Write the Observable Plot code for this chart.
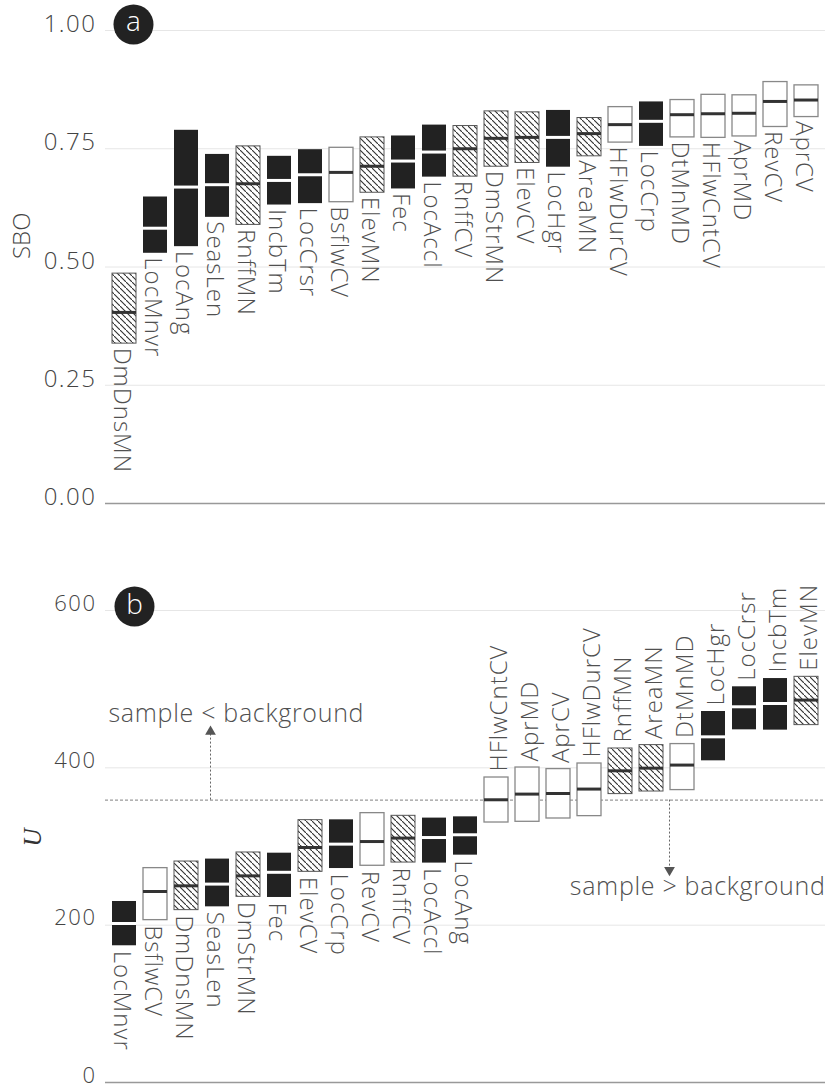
<!DOCTYPE html>
<html><head><meta charset="utf-8">
<script src="https://cdn.jsdelivr.net/npm/d3@7"></script>
<script src="https://cdn.jsdelivr.net/npm/@observablehq/plot@0.6"></script>
<style>
body{margin:0;background:#fff;}
#chart{width:827px;}
#chart svg{display:block;}
text[aria-label="cat-label"]{letter-spacing:1px;}
g[aria-label="y-axis tick label"] text{letter-spacing:1.5px;}
text[aria-label="annotation"]{letter-spacing:0.7px;}
</style></head><body><div id="chart"></div>
<script>
// ---------- data ----------
const varsA = ["DmDnsMN","LocMnvr","LocAng","SeasLen","RnffMN","IncbTm","LocCrsr","BsflwCV","ElevMN","Fec","LocAccl","RnffCV","DmStrMN","ElevCV","LocHgr","AreaMN","HFlwDurCV","LocCrp","DtMnMD","HFlwCntCV","AprMD","RevCV","AprCV"];
const lowA  = [0.338,0.529,0.543,0.605,0.589,0.631,0.634,0.637,0.657,0.665,0.690,0.691,0.712,0.720,0.711,0.734,0.763,0.755,0.774,0.773,0.776,0.796,0.817];
const medA  = [0.404,0.582,0.669,0.674,0.676,0.683,0.695,0.700,0.713,0.724,0.743,0.750,0.772,0.774,0.774,0.782,0.801,0.808,0.822,0.824,0.825,0.850,0.853];
const highA = [0.486,0.648,0.789,0.738,0.755,0.734,0.748,0.752,0.774,0.777,0.800,0.798,0.829,0.827,0.831,0.815,0.838,0.849,0.853,0.864,0.863,0.891,0.884];

const varsB = ["LocMnvr","BsflwCV","DmDnsMN","SeasLen","DmStrMN","Fec","ElevCV","LocCrp","RevCV","RnffCV","LocAccl","LocAng","HFlwCntCV","AprMD","AprCV","HFlwDurCV","RnffMN","AreaMN","DtMnMD","LocHgr","LocCrsr","IncbTm","ElevMN"];
const lowB  = [173.8,206.4,219.1,223.3,236.0,235.2,267.8,272.0,275.5,279.6,278.9,289.0,330.5,331.4,335.6,338.6,366.6,369.9,371.7,408.9,448.3,447.9,454.3];
const medB  = [202.1,242.8,250.0,252.2,262.7,267.2,298.7,303.0,306.3,310.7,311.4,314.9,359.4,366.6,367.4,373.0,396.2,399.6,403.5,439.4,477.6,481.8,486.1];
const highB = [230.1,272.5,280.9,284.0,292.4,291.5,333.5,333.9,342.4,339.0,336.1,337.7,387.7,400.4,398.4,405.5,424.6,428.9,430.2,471.6,503.0,513.5,515.7];

const solidVars = ["LocMnvr","LocAng","SeasLen","IncbTm","LocCrsr","Fec","LocAccl","LocHgr","LocCrp"];
const hatchVars = ["DmDnsMN","RnffMN","ElevMN","RnffCV","DmStrMN","ElevCV","AreaMN"];
const openVars  = ["BsflwCV","HFlwDurCV","DtMnMD","HFlwCntCV","AprMD","RevCV","AprCV"];

const ticksA = [0, 0.25, 0.5, 0.75, 1];
const ticksB = [0, 200, 400, 600];
const criticalU = 359;
const annotUp = {text: "sample < background", y: 469, arrowFrom: 359, arrowTo: 446, at: "SeasLen"};
const annotDown = {text: "sample > background", y: 249, arrowFrom: 359, arrowTo: 270, at: "AreaMN"};

// ---------- helpers ----------
const FONT = "'Open Sans', Lato, sans-serif";
const TXT = "#505050";
function typeOf(v){ return solidVars.includes(v) ? "solid" : hatchVars.includes(v) ? "hatch" : "open"; }
function rowsOf(vars, lo, md, hi){ return vars.map((v,i)=>({v, lo: lo[i], md: md[i], hi: hi[i], type: typeOf(v)})); }
function hatchDefs(id){
  return () => {
    const defs = d3.create("svg:defs");
    const p = defs.append("pattern").attr("id", id).attr("width", 6).attr("height", 6).attr("patternUnits", "userSpaceOnUse");
    p.append("rect").attr("width", 6).attr("height", 6).attr("fill", "#fff");
    p.append("path").attr("d", "M-1,-1L1,1M0,0L6,6M5,5L7,7").attr("stroke", "#333").attr("stroke-width", 1.1);
    return defs.node();
  };
}
function boxMarks(rows, id){
  return [
    Plot.barY(rows.filter(d=>d.type==="solid"), {x:"v", y1:"lo", y2:"hi", fill:"#222"}),
    Plot.barY(rows.filter(d=>d.type==="open"), {x:"v", y1:"lo", y2:"hi", fill:"#fff", stroke:"#888", strokeWidth:1.3}),
    Plot.barY(rows.filter(d=>d.type==="hatch"), {x:"v", y1:"lo", y2:"hi", fill:`url(#${id})`, stroke:"#555", strokeWidth:1}),
    Plot.tickY(rows.filter(d=>d.type==="solid"), {x:"v", y:"md", stroke:"#fff", strokeWidth:3}),
    Plot.tickY(rows.filter(d=>d.type!=="solid"), {x:"v", y:"md", stroke:"#333", strokeWidth:3})
  ];
}
const labelStyle = {fontSize: 24, fill: TXT, fontWeight: 300, fontFamily: FONT, ariaLabel: () => "cat-label"};
const annotStyle = {fontSize: 25, fill: TXT, fontWeight: 300, fontFamily: FONT, ariaLabel: () => "annotation"};

// ---------- panel a ----------
const rowsA = rowsOf(varsA, lowA, medA, highA);
const plotA = Plot.plot({
  width: 827, height: 545, marginLeft: 105, marginRight: 2, marginTop: 30, marginBottom: 42,
  style: {fontFamily: FONT, background: "#fff"},
  x: {domain: varsA, padding: 0.22, axis: null},
  y: {domain: [0, 1], axis: null},
  marks: [
    hatchDefs("hatchA"),
    Plot.gridY(ticksA.filter(t=>t>0), {stroke:"#e6e6e6", strokeOpacity:1}),
    Plot.ruleY([0], {stroke:"#999", strokeWidth:1.5}),
    Plot.axisY(ticksA, {tickSize:0, tickPadding:9, tickFormat: d3.format(".2f"), fontSize:24, fontWeight:300, color:"#444", dy:-6, label:null}),
    Plot.text(["SBO"], {text: d=>d, frameAnchor:"left", rotate:-90, dx:-83, dy:-8, fontSize:24, fontWeight:300, fill:"#444"}),
    ...boxMarks(rowsA, "hatchA"),
    Plot.text(rowsA, {x:"v", y:"lo", text:"v", rotate:90, textAnchor:"start", dy:4, dx:-3, ...labelStyle}),
    Plot.dot([{x: varsA[0], y: 1}], {x:"x", y:"y", r:20, fill:"#222", dx:9, dy:-6}),
    Plot.text([{x: varsA[0], y: 1, t: "a"}], {x:"x", y:"y", text:"t", fill:"#fff", fontSize:28, fontWeight:300, dx:9, dy:-8})
  ]
});

// ---------- panel b ----------
const rowsB = rowsOf(varsB, lowB, medB, highB);
const plotB = Plot.plot({
  width: 827, height: 544, marginLeft: 105, marginRight: 2, marginTop: 65, marginBottom: 7,
  style: {fontFamily: FONT, background: "#fff"},
  x: {domain: varsB, padding: 0.22, axis: null},
  y: {domain: [0, 600], axis: null},
  marks: [
    hatchDefs("hatchB"),
    Plot.gridY(ticksB.filter(t=>t>0), {stroke:"#e6e6e6", strokeOpacity:1}),
    Plot.ruleY([0], {stroke:"#999", strokeWidth:1.5}),
    Plot.axisY(ticksB, {tickSize:0, tickPadding:9, fontSize:22, fontWeight:300, color:"#444", dy:-7, label:null}),
    Plot.text(["U"], {text: d=>d, frameAnchor:"left", rotate:-90, dx:-73, fontSize:25, fontStyle:"italic", fontFamily:"'Liberation Serif', serif", fill:"#333"}),
    Plot.ruleY([criticalU], {stroke:"#999", strokeDasharray:"3,2", strokeWidth:1.2}),
    Plot.ruleX([annotUp], {x:"at", y1:"arrowFrom", y2:"arrowTo", stroke:"#666", strokeDasharray:"2,2", dx:-7}),
    Plot.dot([annotUp], {x:"at", y:"arrowTo", symbol:"triangle", r:4, fill:"#555", stroke:null, dx:-7}),
    Plot.ruleX([annotDown], {x:"at", y1:"arrowFrom", y2:"arrowTo", stroke:"#666", strokeDasharray:"2,2", dx:18}),
    Plot.dot([annotDown], {x:"at", y:"arrowTo", symbol:"triangle", rotate:180, r:4, fill:"#555", stroke:null, dx:18}),
    Plot.text([annotUp], {y:"y", text:"text", frameAnchor:"left", textAnchor:"start", dx:3, ...annotStyle}),
    Plot.text([annotDown], {y:"y", text:"text", frameAnchor:"right", textAnchor:"end", dx:0, ...annotStyle}),
    ...boxMarks(rowsB, "hatchB"),
    Plot.text(rowsB.filter(d=>d.hi < criticalU), {x:"v", y:"lo", text:"v", rotate:90, textAnchor:"start", dy:5, dx:-3, ...labelStyle}),
    Plot.text(rowsB.filter(d=>d.hi >= criticalU), {x:"v", y:"hi", text:"v", rotate:-90, textAnchor:"start", dy:-6, dx:3, ...labelStyle}),
    Plot.dot([{x: varsB[0], y: 600}], {x:"x", y:"y", r:20, fill:"#222", dx:10, dy:-4}),
    Plot.text([{x: varsB[0], y: 600, t: "b"}], {x:"x", y:"y", text:"t", fill:"#fff", fontSize:28, fontWeight:300, dx:10, dy:-5})
  ]
});

const root = document.getElementById("chart");
root.appendChild(plotA);
root.appendChild(plotB);
</script></body></html>
